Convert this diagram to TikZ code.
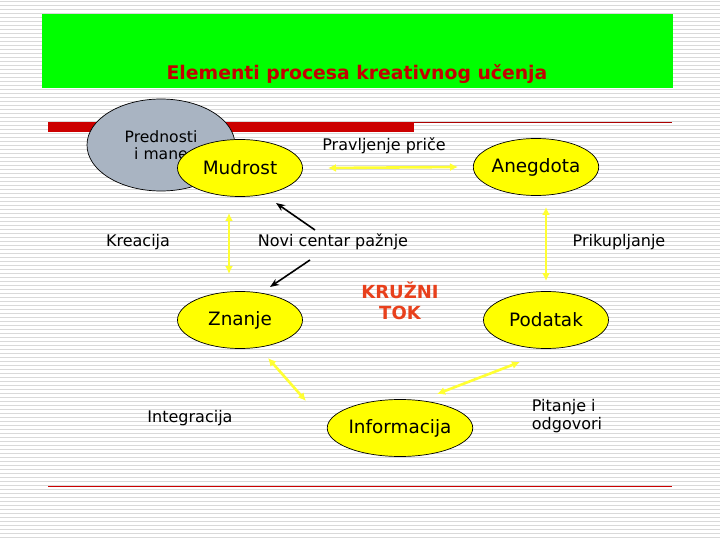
\documentclass[tikz,border=0pt]{standalone}
\usepackage{fontspec}
\setmainfont{DejaVu Sans}
\usetikzlibrary{arrows.meta,positioning,shapes.geometric,calc}

\definecolor{stripe}{HTML}{D9D9D9}
\definecolor{slidegreen}{HTML}{00FF00}
\definecolor{barred}{HTML}{CC0000}
\definecolor{titlered}{HTML}{C40000}
\definecolor{tokred}{HTML}{E8401C}
\definecolor{pale}{HTML}{A9B4C2}
\definecolor{hiyellow}{HTML}{FFFF00}
\definecolor{arryellow}{HTML}{FFFF33}

\begin{document}
\begin{tikzpicture}[
	x=1pt, y=-1pt,
	>=Stealth,
	bubble/.style={
		ellipse, draw=black, line width=0.7pt,
		fill=hiyellow, inner sep=0pt,
		minimum width=125pt, minimum height=57pt,
		font=\fontsize{18.4}{21}\selectfont
	},
	greybubble/.style={
		ellipse, draw=black, line width=0.7pt,
		fill=pale, inner sep=0pt,
		minimum width=148pt, minimum height=92pt,
		align=center, font=\fontsize{15.6}{17}\selectfont
	},
	lbl/.style={inner sep=0pt, font=\fontsize{16}{17.5}\selectfont},
	yarr/.style={<->, line width=2.6pt, arryellow,
		>={Latex[length=8pt,width=8pt]}},
	barr/.style={->, line width=1.6pt, black,
		>={Stealth[length=9pt,width=7pt]}}
]
\useasboundingbox (0,0) rectangle (720,540);

% striped background
\fill[white] (0,0) rectangle (720,540);
\foreach \k in {0,...,134}
	\draw[stripe, line width=1pt] (0,\k*4+1.5) -- (720,\k*4+1.5);

% title band
\fill[slidegreen] (42,14) rectangle (673,88);
\node[inner sep=0pt, text=titlered, font=\fontsize{18.8}{22}\selectfont\bfseries]
	(title) at (357,74) {Elementi procesa kreativnog učenja};

% red rules
\fill[barred] (48,122) rectangle (414,132);
\draw[barred!85!black, line width=1pt] (414,123) -- (672,123);
\draw[barred, line width=1pt] (48,486) -- (672,486);

% ellipses
\node[greybubble] (prednosti) at (161,145) {Prednosti\\i mane};
\node[bubble] (mudrost)     at (240,168) {Mudrost};
\node[bubble] (anegdota)    at (536,167) {Anegdota};
\node[bubble] (znanje)      at (240,320) {Znanje};
\node[bubble] (podatak)     at (546,320) {Podatak};
\node[bubble, minimum width=126pt, minimum height=57pt]
	(informacija) at (400,428) {Informacija};

% labels
\node[lbl] (prica)    at (384,146) {Pravljenje priče};
\node[lbl] (kreacija) at (138,242) {Kreacija};
\node[lbl] (novi)     at (333,242) {Novi centar pažnje};
\node[lbl] (prikup)   at (619,242) {Prikupljanje};
\node[lbl] (integr)   at (190,418) {Integracija};
\node[lbl, align=left] (pitanje) at (567,416) {Pitanje i\\odgovori};
\node[inner sep=0pt, align=center, text=tokred,
	font=\fontsize{18}{21}\selectfont\bfseries] (tok) at (400,301) {KRUŽNI\\TOK};

% cycle arrows
\draw[yarr] ($(mudrost)+(88,0)$) -- ($(anegdota)+(-78,0)$);
\draw[yarr] ($(mudrost)+(-11,45)$) -- ($(znanje)+(-11,-46)$);
\draw[yarr] ($(anegdota)+(10,40)$) -- ($(podatak)+(0,-39)$);
\draw[yarr] ($(znanje)+(28,38)$) -- ($(informacija)+(-94,-27)$);
\draw[yarr] ($(informacija)+(37,-34)$) -- ($(podatak)+(-26,42)$);

% focus arrows
\draw[barr] ($(novi)+(-18,-12)$) -- ($(mudrost)+(36,35)$);
\draw[barr] ($(novi)+(-23,18)$) -- ($(znanje)+(30,-33)$);

\end{tikzpicture}
\end{document}
